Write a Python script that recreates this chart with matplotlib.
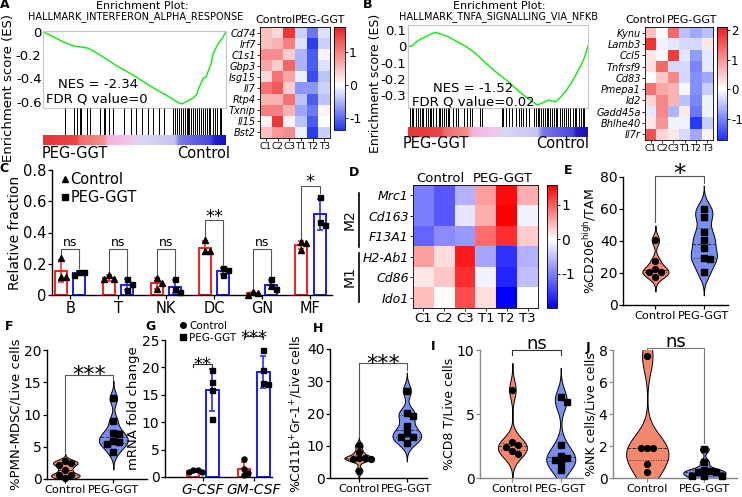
import numpy as np
import matplotlib
matplotlib.use("Agg")
import matplotlib.pyplot as plt
from matplotlib.colors import LinearSegmentedColormap
from matplotlib.lines import Line2D

plt.rcParams['font.family'] = 'DejaVu Sans'
plt.rcParams['axes.unicode_minus'] = False
plt.rcParams['mathtext.default'] = 'regular'

# ---------------- data ----------------
groups = ['Control', 'PEG-GGT']
samples = ['C1', 'C2', 'C3', 'T1', 'T2', 'T3']

# A - GSEA interferon alpha response
rank_a = [0, 0.05, 0.10, 0.13, 0.17, 0.20, 0.24, 0.28, 0.32, 0.35, 0.40, 0.45, 0.50, 0.55, 0.60,
          0.65, 0.70, 0.74, 0.76, 0.785, 0.82, 0.84, 0.85, 0.876, 0.89, 0.916, 0.93, 0.958, 0.98, 1.0]
es_a = [0, -0.04, -0.08, -0.10, -0.125, -0.13, -0.14, -0.17, -0.21, -0.24, -0.29, -0.335, -0.38, -0.43, -0.48,
        -0.525, -0.57, -0.61, -0.62, -0.60, -0.57, -0.54, -0.49, -0.40, -0.39, -0.29, -0.19, -0.10, -0.057, 0.0]
hits_a = [0.12, 0.17, 0.185, 0.20, 0.21, 0.24, 0.255, 0.31, 0.335, 0.34, 0.36, 0.385, 0.44, 0.48, 0.51,
          0.54, 0.575, 0.60, 0.635, 0.66, 0.71, 0.72, 0.73, 0.745, 0.755, 0.765, 0.775, 0.785, 0.795,
          0.80, 0.81, 0.82, 0.83, 0.84, 0.85, 0.855, 0.865, 0.875, 0.885, 0.895, 0.905, 0.915, 0.93,
          0.94, 0.95, 0.965, 0.975]
genes_a = ['Cd74', 'Irf7', 'C1s1', 'Gbp3', 'Isg15', 'Il7', 'Rtp4', 'Txnip', 'Il15', 'Bst2']
heat_a = [[0.5, 0.3, 1.6, -0.3, -0.9, -0.2],
          [0.5, 0.6, 1.0, -0.2, -1.3, -0.3],
          [0.9, 0.9, 0.4, -0.5, -1.1, 0.1],
          [0.7, 0.4, 1.2, -0.5, -1.1, -0.2],
          [0.3, 1.1, 0.7, -0.1, -1.2, -0.4],
          [1.1, 1.3, 0.4, -0.7, -0.7, -0.3],
          [0.6, 0.6, 1.1, -0.4, -1.1, -0.4],
          [1.0, 1.0, 0.6, -0.6, -0.9, 0.1],
          [0.1, 1.6, 0.1, -0.4, -1.1, 0.0],
          [0.5, 0.8, 0.9, -0.1, -1.3, -0.3]]

# B - GSEA TNFa signalling via NFkB
rank_b = [0, 0.02, 0.05, 0.08, 0.12, 0.15, 0.18, 0.22, 0.27, 0.32, 0.36, 0.42, 0.48, 0.55,
          0.62, 0.68, 0.72, 0.75, 0.78, 0.82, 0.85, 0.88, 0.91, 0.94, 0.96, 0.98, 1.0]
es_b = [0, 0.0, 0.03, 0.05, 0.07, 0.085, 0.075, 0.06, 0.03, 0.0, -0.03, -0.09, -0.15, -0.21,
        -0.28, -0.33, -0.36, -0.345, -0.33, -0.34, -0.31, -0.27, -0.22, -0.16, -0.12, -0.07, 0.0]
hits_b = [0.01, 0.02, 0.03, 0.045, 0.055, 0.065, 0.075, 0.085, 0.10, 0.11, 0.12, 0.13, 0.14, 0.155,
          0.17, 0.18, 0.19, 0.20, 0.21, 0.22, 0.23, 0.25, 0.265, 0.28, 0.31, 0.325, 0.345, 0.355,
          0.40, 0.41, 0.52, 0.53, 0.545, 0.56, 0.575, 0.60, 0.615, 0.63, 0.64, 0.655, 0.67, 0.70,
          0.71, 0.72, 0.73, 0.74, 0.75, 0.76, 0.77, 0.78, 0.79, 0.80, 0.81, 0.82, 0.83, 0.845,
          0.855, 0.865, 0.88, 0.89, 0.90, 0.915, 0.925, 0.935, 0.95, 0.96, 0.97, 0.98]
genes_b = ['Kynu', 'Lamb3', 'Ccl5', 'Tnfrsf9', 'Cd83', 'Pmepa1', 'Id2', 'Gadd45a', 'Bhlhe40', 'Il7r']
heat_b = [[0.6, 0.0, 1.4, -0.5, -0.7, -0.5],
          [1.9, -0.1, -0.2, -0.3, -0.3, 0.2],
          [0.2, -0.05, 1.8, -0.2, -0.8, -0.2],
          [0.3, 1.4, -0.3, -0.3, -1.0, -0.2],
          [0.0, 0.5, 1.1, -0.3, -0.9, -0.7],
          [1.3, 0.8, 0.7, -0.05, -0.9, -0.4],
          [0.4, 1.1, 0.7, -0.5, -1.0, -0.1],
          [-0.2, 1.1, -0.6, 0.2, -1.1, -0.1],
          [0.2, 1.0, -0.1, -0.1, -1.6, -0.4],
          [1.6, 0.4, 0.2, -0.3, -0.7, 0.1]]

# C - relative fraction of immune cells
cells_c = ['B', 'T', 'NK', 'DC', 'GN', 'MF']
ctrl_c = [[0.235, 0.115, 0.115], [0.13, 0.10, 0.10], [0.11, 0.08, 0.04],
          [0.35, 0.28, 0.28], [0.02, 0.01, 0.0], [0.34, 0.33, 0.29]]
peg_c = [[0.15, 0.145, 0.125], [0.10, 0.07, 0.03], [0.10, 0.04, 0.02],
         [0.17, 0.16, 0.13], [0.10, 0.06, 0.04], [0.63, 0.47, 0.45]]
sig_c = ['ns', 'ns', 'ns', '**', 'ns', '*']
sig_y_c = [0.295, 0.295, 0.295, 0.48, 0.295, 0.70]

# D - macrophage markers
genes_d = ['Mrc1', 'Cd163', 'F13A1', 'H2-Ab1', 'Cd86', 'Ido1']
heat_d = [[-1.0, -1.3, -0.6, 0.6, 1.5, 0.5],
          [-1.0, -1.3, -0.2, 0.5, 1.6, -0.1],
          [-1.2, -0.9, -0.8, 0.9, 1.3, 0.3],
          [0.6, 0.2, 1.4, -0.7, -1.6, -0.6],
          [0.15, 0.35, 1.3, -0.1, -1.7, -0.5],
          [0.4, 0.0, 1.1, 0.2, -2.0, 0.0]]

# E, F, H, I, J - violin panels
e_ctrl = [40.5, 27.6, 22.4, 20.8, 20.4, 17.7]
e_peg = [60.3, 55.1, 45.7, 40.5, 35.7, 29.5, 28.7, 20.4]
f_ctrl = [2.8, 2.5, 2.1, 1.4, 0.6, 0.6, 0.2]
f_peg = [12.5, 9.0, 7.1, 7.0, 5.9, 5.7, 5.5, 4.2]
h_ctrl = [10.1, 8.0, 6.2, 6.2, 6.0, 6.0, 2.3]
h_peg = [27.1, 20.3, 19.3, 16.0, 14.0, 12.7, 12.7, 10.8]
i_ctrl = [6.9, 2.8, 2.6, 2.4, 2.1, 1.9]
i_peg = [6.3, 5.9, 2.6, 1.7, 1.6, 1.4, 1.2, 0.6]
j_ctrl = [7.6, 1.9, 1.9, 1.85, 0.85, 0.35]
j_peg = [1.8, 1.0, 0.5, 0.45, 0.4, 0.35, 0.1, 0.1, 0.1]

# G - mRNA fold change
genes_g = ['G-CSF', 'GM-CSF']
ctrl_g = [[1.3, 1.2, 1.0, 0.9], [3.2, 1.5, 0.8, 0.3]]
peg_g = [[19.5, 17.4, 15.9, 10.5], [23.2, 19.5, 17.1, 16.9]]
sig_g = ['**', '***']
sig_y_g = [20.7, 25.7]

# ---------------- helpers ----------------
W, H = 742, 497
fig = plt.figure(figsize=(W / 100, H / 100), dpi=100)

RED = '#ff1a1a'
BLUE = '#1a1aff'
CTRL_FILL = '#f5876f'
PEG_FILL = '#7b8ff3'

rank_cmap = LinearSegmentedColormap.from_list('rank', [
    (0, '#e63535'), (0.18, '#ec4545'), (0.2, '#f06a6a'), (0.33, '#f39090'),
    (0.36, '#f5b5e0'), (0.5, '#f0c8ec'), (0.53, '#d8d8f6'), (0.72, '#c4c4f2'),
    (0.75, '#7a7aea'), (0.92, '#4545dc'), (0.94, '#2020c8'), (1, '#1a10b8')])


def ax_px(x0, y0, x1, y1):
    # axes from pixel box (origin top-left)
    return fig.add_axes([x0 / W, 1 - y1 / H, (x1 - x0) / W, (y1 - y0) / H])


def txt(x, y, s, **kw):
    kw.setdefault('ha', 'center')
    kw.setdefault('va', 'center')
    fig.text(x / W, 1 - y / H, s, **kw)


def diverging(vmin, vmax, low, high):
    mid = -vmin / (vmax - vmin)
    return LinearSegmentedColormap.from_list('div', [(0, low), (mid, 'white'), (1, high)])


def gsea(x0, x1, y_top, y_es, y_hit, y_bar, rank, es, hits, ylim, yticks, ylabels):
    ax = ax_px(x0, y_top, x1, y_es)
    ax.plot(rank, es, color='#1ee81e', lw=1.1)
    ax.set_xlim(0, 1)
    ax.set_ylim(ylim)
    ax.set_xticks([])
    ax.set_yticks(yticks)
    ax.set_yticklabels(ylabels)
    ax.tick_params(axis='y', length=0, labelsize=9.5, pad=1)
    for s in ax.spines.values():
        s.set_color('#c8c8c8')
        s.set_linewidth(0.8)
    axh = ax_px(x0, y_es, x1, y_hit)
    axh.vlines(hits, 0, 1, color='black', lw=0.7)
    axh.set_xlim(0, 1)
    axh.set_ylim(0, 1)
    axh.axis('off')
    axb = ax_px(x0, y_hit, x1, y_bar)
    axb.imshow(np.linspace(0, 1, 300)[None, :], aspect='auto', cmap=rank_cmap, extent=(0, 1, 0, 1))
    axb.axis('off')


def heatmap(rect, cb_rect, data, rows, vmin, vmax, cmap, row_fs, col_fs, cb_ticks, cb_fs):
    ax = ax_px(*rect)
    im = ax.imshow(np.array(data), cmap=cmap, vmin=vmin, vmax=vmax, aspect='auto')
    ax.set_xticks(range(len(samples)))
    ax.set_xticklabels(samples, fontsize=col_fs)
    ax.set_yticks(range(len(rows)))
    ax.set_yticklabels(rows, fontsize=row_fs, style='italic')
    ax.tick_params(length=2, pad=1, width=0.6)
    for s in ax.spines.values():
        s.set_linewidth(0.6)
    cax = ax_px(*cb_rect)
    cb = fig.colorbar(im, cax=cax, ticks=cb_ticks)
    cb.ax.set_yticklabels([str(t) for t in cb_ticks])
    cb.ax.tick_params(labelsize=cb_fs, length=2, pad=1, width=0.6)
    cb.outline.set_linewidth(0.6)
    return ax


def swarm(ax, x, vals, marker, ms, gap):
    # spread points sideways so they don't overlap (pixel space)
    pts = ax.transData.transform(np.column_stack([np.full(len(vals), x), vals]))
    unit = ax.transData.transform((1, 0))[0] - ax.transData.transform((0, 0))[0]
    placed, xs = [], []
    for px, py in pts:
        for k in [0, 1, -1, 2, -2, 3, -3]:
            cx = px + k * gap
            if all((cx - qx) ** 2 + (py - qy) ** 2 >= 0.9 * gap ** 2 for qx, qy in placed):
                break
        placed.append((cx, py))
        xs.append(x + (cx - px) / unit)
    ax.plot(xs, vals, ls='none', marker=marker, color='black', ms=ms, zorder=5, clip_on=False)


def violin(ax, x, vals, color, half=0.3, extend=3.0):
    vals = np.asarray(vals, float)
    bw = 0.5 * 1.06 * vals.std(ddof=1) * len(vals) ** -0.2
    ys = np.linspace(vals.min() - extend * bw, vals.max() + extend * bw, 300)
    dens = np.exp(-0.5 * ((ys[:, None] - vals[None, :]) / bw) ** 2).sum(axis=1)
    dens = dens / dens.max() * half
    ax.fill_betweenx(ys, x - dens, x + dens, facecolor=color, edgecolor='black', lw=0.7, zorder=2)
    q1, med, q3 = np.percentile(vals, [25, 50, 75])
    for q, ls in ((q1, ':'), (med, '--'), (q3, ':')):
        w = np.interp(q, ys, dens)
        ax.plot([x - w, x + w], [q, q], color='#333333', lw=0.7, ls=ls, zorder=3)


def bracket(ax, x1, x2, y, y1, y2, label, fs, dy, color='#555555'):
    ax.plot([x1, x1, x2, x2], [y1, y, y, y2], color=color, lw=0.8, clip_on=False, zorder=1)
    ax.text((x1 + x2) / 2, y + dy, label, ha='center', va='baseline', fontsize=fs, clip_on=False)


def style_axes(ax, color='black'):
    ax.spines['top'].set_visible(False)
    ax.spines['right'].set_visible(False)
    for s in ('left', 'bottom'):
        ax.spines[s].set_color(color)
        ax.spines[s].set_linewidth(1.0)
    ax.tick_params(color=color, length=3, width=0.9, pad=1)


def violin_panel(rect, ctrl, peg, ylim, yticks, ylabel, xlim, half=0.3, extend=3.0,
                 spine='black', ylabel_fs=9):
    ax = ax_px(*rect)
    ax.set_xlim(xlim)
    ax.set_ylim(ylim)
    violin(ax, 0, ctrl, CTRL_FILL, half, extend)
    violin(ax, 1, peg, PEG_FILL, half, extend)
    swarm(ax, 0, ctrl, 'o', 4.2, 6)
    swarm(ax, 1, peg, 's', 4.2, 6)
    ax.set_xticks([0, 1])
    ax.set_xticklabels(groups, fontsize=8.2)
    ax.set_yticks(yticks)
    ax.tick_params(axis='y', labelsize=10)
    style_axes(ax, spine)
    ax.set_ylabel(ylabel, fontsize=ylabel_fs, labelpad=1)
    return ax


# ---------------- panel A ----------------
txt(142, 6, 'Enrichment Plot:', fontsize=8)
txt(136, 17, 'HALLMARK_INTERFERON_ALPHA_RESPONSE', fontsize=7)
gsea(43, 226, 31, 108, 135, 145, rank_a, es_a, hits_a, (-0.655, 0.005),
     [0, -0.2, -0.4, -0.6], ['0', '-0.2', '-0.4', '-0.6'])
txt(9, 88, 'Enrichment score (ES)', fontsize=9.5, rotation=90)
txt(58, 85, 'NES = -2.34', fontsize=9.5, ha='left')
txt(46, 99, 'FDR Q value=0', fontsize=9.5, ha='left')
txt(42, 153, 'PEG-GGT', fontsize=10.5, ha='left')
txt(230, 153, 'Control', fontsize=10.5, ha='right')
heatmap((260, 27, 330, 138), (334, 27, 345, 130), heat_a, genes_a, -1.36, 1.76,
        diverging(-1.36, 1.76, '#2035f0', '#f02020'), 7, 6.5, [-1, 0, 1], 9)
txt(275, 20, 'Control', fontsize=8)
txt(320, 20, 'PEG-GGT', fontsize=8)

# ---------------- panel B ----------------
txt(499, 6, 'Enrichment Plot:', fontsize=8)
txt(499, 17, 'HALLMARK_TNFA_SIGNALLING_VIA_NFKB', fontsize=7)
gsea(408, 588, 25, 108, 127, 137, rank_b, es_b, hits_b, (-0.378, 0.13),
     [0.1, 0, -0.1, -0.2, -0.3], ['0.1', '0', '-0.1', '-0.2', '-0.3'])
txt(376, 83, 'Enrichment score (ES)', fontsize=9, rotation=90)
txt(433, 88, 'NES = -1.52', fontsize=9.5, ha='left')
txt(412, 102, 'FDR Q value=0.02', fontsize=9.5, ha='left')
txt(403, 144, 'PEG-GGT', fontsize=10.5, ha='left')
txt(589, 144, 'Control', fontsize=10.5, ha='right')
heatmap((645, 27, 713, 140), (717, 27, 727, 140), heat_b, genes_b, -1.7, 2.1,
        diverging(-1.7, 2.1, '#1a30ff', '#f01e1e'), 7, 6.5, [-1, 0, 1, 2], 8.5)
txt(646, 20, 'Control', fontsize=8)
txt(692, 20, 'PEG-GGT', fontsize=8)

# ---------------- panel C ----------------
ax = ax_px(52, 170, 332, 295)
ax.set_xlim(-0.38, 5.45)
ax.set_ylim(0, 0.8)
xc = np.arange(len(cells_c))
off, bw_bar = 0.19, 0.25
for vals, sign, col in ((ctrl_c, -1, RED), (peg_c, 1, BLUE)):
    means = [np.mean(v) for v in vals]
    sds = [np.std(v, ddof=1) for v in vals]
    ax.bar(xc + sign * off, means, bw_bar, facecolor='white', edgecolor=col, lw=1.4, zorder=2)
    ax.errorbar(xc + sign * off, means, yerr=sds, fmt='none', ecolor=col, elinewidth=1.1,
                capsize=2.5, capthick=1.1, zorder=3)
for i in range(len(cells_c)):
    swarm(ax, xc[i] - off, ctrl_c[i], '^', 4, 5)
    swarm(ax, xc[i] + off, peg_c[i], 's', 3.6, 5)
for i, lab in enumerate(sig_c):
    yl = max(max(ctrl_c[i]), np.mean(ctrl_c[i]) + np.std(ctrl_c[i], ddof=1)) + 0.02
    yr = max(max(peg_c[i]), np.mean(peg_c[i]) + np.std(peg_c[i], ddof=1)) + 0.02
    if lab == 'ns':
        bracket(ax, xc[i] - off, xc[i] + off, sig_y_c[i], yl, yr, lab, 9, 0.02)
    else:
        bracket(ax, xc[i] - off, xc[i] + off, sig_y_c[i], yl, yr, lab, 13, -0.01)
ax.set_xticks(xc)
ax.set_xticklabels(cells_c, fontsize=10.5)
ax.set_yticks([0, 0.2, 0.4, 0.6, 0.8])
ax.set_yticklabels(['0', '0.2', '0.4', '0.6', '0.8'])
ax.tick_params(axis='y', labelsize=10.5)
style_axes(ax)
ax.set_ylabel('Relative fraction', fontsize=10, labelpad=1)
handles = [Line2D([], [], ls='none', marker='^', color='black', ms=4),
           Line2D([], [], ls='none', marker='s', color='black', ms=4)]
ax.legend(handles, groups, loc='upper left', bbox_to_anchor=(0.03, 0.98), frameon=False,
          fontsize=10.5, handlelength=0.6, handletextpad=0.1, labelspacing=0.15,
          borderpad=0, borderaxespad=0)

# ---------------- panel D ----------------
heatmap((413, 185, 538, 308), (547, 185, 557, 308), heat_d, genes_d, -1.99, 1.58,
        diverging(-1.99, 1.58, '#0000ff', '#ff0000'), 9, 9.5, [-1, 0, 1], 10)
txt(440, 178, 'Control', fontsize=9.5)
txt(503, 178, 'PEG-GGT', fontsize=9.5)
fig.add_artist(Line2D([359 / W, 359 / W], [1 - 193 / H, 1 - 247 / H], color='black', lw=1.2))
fig.add_artist(Line2D([359 / W, 359 / W], [1 - 253 / H, 1 - 302 / H], color='black', lw=1.2))
txt(350, 220, 'M2', fontsize=10, rotation=90)
txt(350, 277, 'M1', fontsize=10, rotation=90)

# ---------------- panel E ----------------
ax = violin_panel((623, 177, 728, 305), e_ctrl, e_peg, (0, 80), [0, 20, 40, 60, 80],
                  '%CD206$^{high}$/TAM', (-0.67, 1.5), half=0.27)
bracket(ax, 0, 1, 80.5, 52, 76, '*', 18, -3)

# ---------------- panel F ----------------
ax = violin_panel((47, 350, 147, 479), f_ctrl, f_peg, (0, 20), [0, 5, 10, 15, 20],
                  '%PMN-MDSC/Live cells', (-0.38, 1.7), ylabel_fs=9.5)
bracket(ax, 0, 1, 16.2, 4.2, 15.3, '***', 16, -1.0)

# ---------------- panel G ----------------
ax = ax_px(165, 340, 272, 477)
ax.set_xlim(-0.74, 1.36)
ax.set_ylim(0, 25)
xg = np.arange(len(genes_g))
for vals, sign, col in ((ctrl_g, -1, RED), (peg_g, 1, BLUE)):
    means = [np.mean(v) for v in vals]
    sds = [np.std(v, ddof=1) for v in vals]
    ax.bar(xg + sign * off, means, bw_bar, facecolor='white', edgecolor=col, lw=1.4, zorder=2)
    ax.errorbar(xg + sign * off, means, yerr=sds, fmt='none', ecolor=col, elinewidth=1.1,
                capsize=2.5, capthick=1.1, zorder=3)
for i in range(len(genes_g)):
    swarm(ax, xg[i] - off, ctrl_g[i], 'o', 3.6, 4.5)
    swarm(ax, xg[i] + off, peg_g[i], 's', 3.6, 4.5)
for i, lab in enumerate(sig_g):
    bracket(ax, xg[i] - off, xg[i] + off, sig_y_g[i], sig_y_g[i] - 0.6, sig_y_g[i] - 0.6,
            lab, 13, -1.2, color='#333333')
ax.set_xticks(xg)
ax.set_xticklabels(genes_g, fontsize=10, style='italic')
ax.set_yticks([0, 5, 10, 15, 20, 25])
ax.tick_params(axis='y', labelsize=10)
style_axes(ax)
ax.set_ylabel('mRNA fold change', fontsize=9.5, labelpad=1)
handles = [Line2D([], [], ls='none', marker='o', color='black', ms=4),
           Line2D([], [], ls='none', marker='s', color='black', ms=4)]
ax.legend(handles, groups, loc='upper left', bbox_to_anchor=(0.14, 1.14), frameon=False,
          fontsize=7.5, handlelength=0.6, handletextpad=0.3, labelspacing=0.2,
          borderpad=0, borderaxespad=0)

# ---------------- panel H ----------------
ax = violin_panel((330, 349, 427, 478), h_ctrl, h_peg, (0, 40), [0, 10, 20, 30, 40],
                  '%Cd11b$^{+}$Gr-1$^{+}$/Live cells', (-0.6, 1.42))
bracket(ax, 0, 1, 35.6, 13.0, 33.5, '***', 16, -2.0)

# ---------------- panel I ----------------
ax = violin_panel((480, 350, 583, 478), i_ctrl, i_peg, (0, 10), [0, 5, 10],
                  '%CD8 T/Live cells', (-0.67, 1.46), spine='#888888')
bracket(ax, 0, 1, 10.0, 9.6, 9.6, 'ns', 13, 0.1, color='#333333')

# ---------------- panel J ----------------
ax = violin_panel((613, 350, 737, 478), j_ctrl, j_peg, (0, 8), [0, 2, 4, 6, 8],
                  '%NK cells/Live cells', (-0.6, 1.57), half=0.37, extend=0.6, spine='#888888')
bracket(ax, 0, 1, 8.1, 7.95, 2.2, 'ns', 13, 0.1, color='#777777')

# ---------------- panel letters ----------------
for lab, (x, y) in {'A': (5, 5), 'B': (368, 5), 'C': (4, 168), 'D': (354, 172), 'E': (568, 171),
                    'F': (9, 327), 'G': (150, 327), 'H': (318, 328), 'I': (433, 347),
                    'J': (588, 347)}.items():
    txt(x, y, lab, fontsize=9, fontweight='bold')

fig.savefig('out.png', dpi=100)
